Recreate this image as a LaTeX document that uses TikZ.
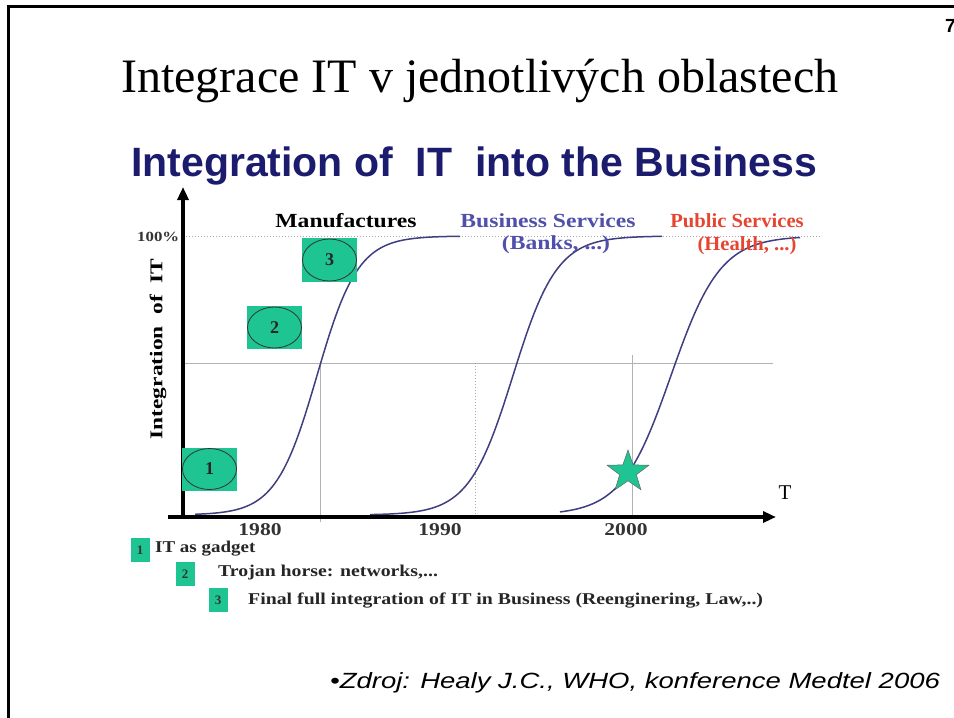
\documentclass[tikz,border=0pt]{standalone}
\usepackage{fontspec}
\setmainfont{Liberation Serif}
\newfontfamily\arialf{Liberation Sans}
\usetikzlibrary{arrows.meta,shapes.geometric}
\definecolor{tgreen}{RGB}{30,196,146}
\definecolor{navy}{RGB}{28,28,110}
\definecolor{curvec}{RGB}{62,62,128}
\definecolor{bizblue}{RGB}{80,80,170}
\definecolor{pubred}{RGB}{228,70,50}
\newcommand{\hsx}[2]{\scalebox{#1}[1]{#2}}
\tikzset{
  fs/.style={font=\fontsize{#1}{#1}\selectfont},
  bfs/.style={font=\bfseries\fontsize{#1}{#1}\selectfont},
  grid/.style={draw=black!30, line width=0.8pt},
  gridd/.style={draw=black!35, line width=1pt, dotted},
  scurve/.style={draw=curvec, line width=1.5pt},
  axis/.style={line width=3.5pt, -{Triangle[length=13pt,width=11pt]}},
  gbox/.style={rectangle, fill=tgreen, inner sep=0pt},
  gell/.style={ellipse, draw=black!80, line width=0.8pt, fill=tgreen, inner sep=0pt, bfs=18, text=black!85},
  lbox/.style={rectangle, fill=tgreen, inner sep=0pt, minimum width=19pt, minimum height=24pt, bfs=13, text=black!80},
  ltext/.style={anchor=west, inner sep=0pt, bfs=16.5, text=black!85},
}
\begin{document}
\begin{tikzpicture}[x=1pt,y=-1pt]
\useasboundingbox (0,0) rectangle (954,718);
% frame
\draw[line width=2.5pt] (8.5,718) -- (8.5,6.5) -- (954,6.5);
\node[anchor=base west, inner sep=0pt, font=\arialf\bfseries\fontsize{19}{19}\selectfont] (pg) at (945,32) {7};
% titles
\node[anchor=base west, inner sep=0pt, fs=48] (title) at (121,92) {Integrace IT v jednotlivých oblastech};
\node[anchor=base west, inner sep=0pt, text=navy, font=\arialf\bfseries\fontsize{41}{41}\selectfont] (sub) at (131,176) {Integration of\ \ IT\ \ into the Business};
% grid
\draw[gridd] (183,236) -- (822,236);
\draw[grid] (183,363) -- (773,363);
\draw[grid] (320,363) -- (320,522);
\draw[gridd] (475,363) -- (475,517);
\draw[grid] (632,355) -- (632,515);
% curves
\draw[scurve] plot[domain=195:460, samples=90] (\x, {515-279/(1+exp(-(\x-317)/20.5))});
\draw[scurve] plot[domain=370:662, samples=90] (\x, {515-279/(1+exp(-(\x-513)/22))});
\draw[scurve] plot[domain=560:800, samples=90] (\x, {515-279/(1+exp(-(\x-671)/24.7))});
% labels
\node[inner sep=0pt, bfs=14, text=black!80, anchor=west] (pct) at (137,237) {\hsx{1.2}{100\%}};
\node[rotate=90, inner sep=0pt, bfs=18] (ylab) at (158,349) {\hsx{1.3}{Integration\ \ of\ \ IT}};
\node[inner sep=0pt, bfs=20] (man) at (346,221) {\hsx{1.18}{Manufactures}};
\node[inner sep=0pt, bfs=20, text=bizblue] (biz) at (548,221) {\hsx{1.18}{Business Services}};
\node[inner sep=0pt, bfs=20, text=bizblue] (banks) at (556,245) {\hsx{1.18}{(Banks, ...)}};
\node[inner sep=0pt, bfs=20, text=pubred] (pub) at (737,221) {\hsx{1.03}{Public Services}};
\node[inner sep=0pt, bfs=20, text=pubred] (health) at (747,246) {\hsx{1.03}{(Health, ...)}};
% axes
\coordinate (ybot) at (183,519);
\coordinate (ytop) at (183,187);
\coordinate (xstart) at (168,517);
\coordinate (xend) at (776,517);
\draw[axis] (ybot) -- (ytop);
\draw[axis] (xstart) -- (xend);
\node[inner sep=0pt, fs=21] (T) at (785,493) {T};
\node[inner sep=0pt, bfs=18, text=black!80] (y80) at (260,530) {\hsx{1.2}{1980}};
\node[inner sep=0pt, bfs=18, text=black!80] (y90) at (440,530) {\hsx{1.2}{1990}};
\node[inner sep=0pt, bfs=18, text=black!80] (y00) at (626,530) {\hsx{1.2}{2000}};
% phase markers
\node[gbox, minimum width=55pt, minimum height=43pt] (b1) at (209.5,469) {};
\node[gell, minimum width=54pt, minimum height=41pt] (e1) at (b1) {1};
\node[gbox, minimum width=55pt, minimum height=43pt] (b2) at (274.5,327.5) {};
\node[gell, minimum width=54pt, minimum height=41pt] (e2) at (b2) {2};
\node[gbox, minimum width=55pt, minimum height=44pt] (b3) at (329.5,260) {};
\node[gell, minimum width=54pt, minimum height=42pt] (e3) at (b3) {3};
% star
\node[star, star points=5, star point ratio=2.5, minimum size=44pt, inner sep=0pt, fill=tgreen, draw=black!60, line width=0.5pt] (star) at (628,472) {};
% legend
\node[lbox] (l1) at (140,550) {1};
\node[ltext] (t1) at (155,549) {\hsx{1.15}{IT as gadget}};
\node[lbox] (l2) at (185,574) {2};
\node[ltext] (t2) at (218,573) {\hsx{1.2}{Trojan horse: networks,...}};
\node[lbox] (l3) at (218,600) {3};
\node[ltext] (t3) at (248,601) {\hsx{1.2}{Final full integration of IT in Business (Reenginering, Law,..)}};
% footer
\node[anchor=base west, inner sep=0pt, font=\arialf\itshape\fontsize{22}{22}\selectfont] (src) at (330,688) {\hsx{1.25}{•Zdroj: Healy J.C., WHO, konference Medtel 2006}};
\end{tikzpicture}
\end{document}
